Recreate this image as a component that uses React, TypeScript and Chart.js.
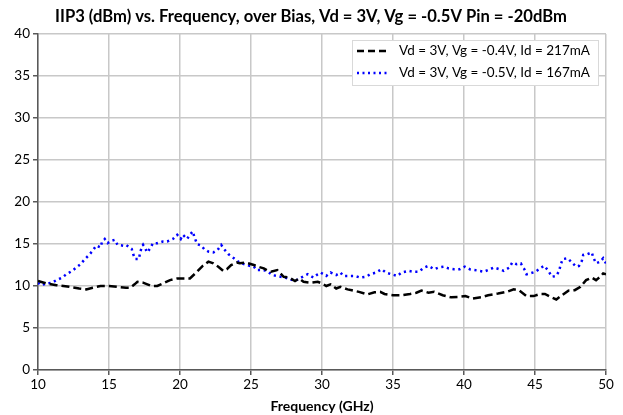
import React, { useEffect, useRef } from "react";
import { Chart, registerables } from "chart.js";

Chart.register(...registerables);

const chartTitle = "IIP3 (dBm) vs. Frequency, over Bias, Vd = 3V, Vg = -0.5V Pin = -20dBm";
const xAxisTitle = "Frequency (GHz)";
const seriesLabels = ["Vd = 3V, Vg = -0.4V, Id = 217mA", "Vd = 3V, Vg = -0.5V, Id = 167mA"];
const yTicks = [0, 5, 10, 15, 20, 25, 30, 35, 40];
const xTicks = [10, 15, 20, 25, 30, 35, 40, 45, 50];

const blackFreq = [10.0, 10.6, 11.3, 12.2, 12.9, 13.4, 13.85, 14.4, 15.0, 15.6, 16.2, 16.5, 16.8, 17.0, 17.4, 17.7, 18.0, 18.4, 18.8, 19.3, 19.8, 20.2, 20.7, 21.2, 21.6, 22.0, 22.35, 22.7, 23.05, 23.3, 23.6, 24.0, 24.2, 24.6, 24.8, 25.2, 25.5, 25.9, 26.2, 26.4, 26.85, 27.3, 27.7, 28.1, 28.4, 28.7, 29.2, 29.7, 30.0, 30.3, 30.6, 31.0, 31.3, 31.8, 32.1, 32.6, 33.2, 33.7, 34.1, 34.4, 35.0, 35.6, 36.2, 36.65, 37.0, 37.5, 37.9, 38.5, 39.1, 39.6, 40.1, 40.6, 41.2, 41.7, 42.4, 43.0, 43.5, 43.9, 44.4, 44.9, 45.35, 45.7, 46.1, 46.5, 46.9, 47.35, 47.8, 48.2, 48.6, 49.0, 49.3, 49.6, 49.8, 50.0];
const blackVals = [10.6, 10.3, 10.1, 9.9, 9.7, 9.6, 9.8, 10.0, 10.0, 9.9, 9.8, 9.8, 10.2, 10.5, 10.4, 10.2, 10.0, 10.0, 10.3, 10.7, 10.9, 10.9, 10.9, 11.7, 12.4, 12.9, 12.7, 12.3, 11.8, 12.0, 12.5, 12.8, 12.7, 12.8, 12.7, 12.5, 12.3, 12.1, 11.8, 11.7, 11.9, 11.1, 11.0, 10.6, 10.9, 10.5, 10.4, 10.5, 10.3, 10.0, 10.2, 9.7, 9.9, 9.6, 9.5, 9.3, 9.0, 9.25, 9.3, 9.05, 8.9, 8.9, 9.05, 9.2, 9.45, 9.2, 9.3, 8.9, 8.65, 8.7, 8.8, 8.5, 8.65, 8.9, 9.1, 9.3, 9.6, 9.45, 8.8, 8.8, 9.05, 9.05, 8.7, 8.4, 8.9, 9.45, 9.5, 9.9, 10.7, 11.0, 10.7, 11.1, 11.5, 11.4];

const blueFreq = [10.0, 10.2, 10.6, 11.0, 11.3, 11.7, 12.0, 12.4, 12.7, 13.0, 13.3, 13.6, 13.85, 14.1, 14.4, 14.5, 14.7, 14.9, 15.2, 15.4, 15.6, 16.0, 16.2, 16.6, 16.7, 16.85, 17.1, 17.2, 17.3, 17.4, 17.7, 17.9, 18.1, 18.4, 18.8, 19.1, 19.5, 19.8, 20.05, 20.2, 20.5, 20.7, 20.9, 21.0, 21.2, 21.5, 21.7, 22.0, 22.35, 22.65, 22.9, 23.1, 23.4, 23.8, 24.1, 24.5, 24.9, 25.2, 25.4, 25.9, 26.2, 26.5, 27.4, 28.1, 28.4, 29.0, 29.4, 29.7, 29.9, 30.3, 30.6, 31.0, 31.3, 31.5, 32.3, 32.7, 33.1, 33.4, 33.8, 34.2, 34.5, 34.9, 35.3, 35.6, 36.1, 36.4, 36.8, 37.2, 37.5, 37.9, 38.2, 38.6, 38.9, 39.3, 39.7, 40.05, 40.4, 40.75, 41.1, 41.4, 41.7, 42.1, 42.5, 42.8, 43.2, 43.4, 43.7, 44.0, 44.25, 44.4, 44.65, 45.05, 45.35, 45.65, 45.9, 46.2, 46.5, 46.7, 46.8, 46.95, 47.3, 47.6, 47.9, 48.1, 48.3, 48.4, 48.7, 49.0, 49.1, 49.3, 49.6, 49.8, 50.0];
const blueVals = [10.4, 10.1, 10.3, 10.4, 10.7, 11.0, 11.4, 11.8, 12.2, 12.6, 13.2, 13.7, 14.2, 14.8, 14.6, 15.2, 15.6, 15.1, 15.4, 15.5, 14.9, 14.8, 14.9, 14.4, 13.8, 13.2, 13.2, 14.0, 14.6, 14.9, 14.0, 14.5, 15.1, 15.1, 15.3, 15.3, 15.6, 16.1, 15.6, 16.1, 15.6, 16.1, 16.5, 15.9, 15.0, 14.8, 14.4, 14.1, 14.0, 14.3, 14.9, 14.4, 13.8, 13.3, 12.9, 12.6, 12.4, 12.3, 11.9, 11.9, 11.7, 11.3, 11.0, 10.6, 10.9, 11.4, 11.0, 11.4, 11.6, 11.2, 11.6, 11.3, 11.6, 11.2, 11.2, 11.0, 11.1, 11.4, 11.6, 12.0, 11.6, 11.4, 11.2, 11.6, 11.8, 11.7, 11.7, 12.2, 12.4, 12.0, 12.2, 12.3, 12.1, 12.0, 12.0, 12.3, 12.0, 11.9, 11.8, 11.7, 11.9, 12.2, 12.0, 11.8, 12.2, 12.8, 12.6, 12.7, 12.0, 11.4, 11.5, 11.7, 12.1, 12.4, 11.9, 11.1, 11.2, 11.8, 12.5, 13.2, 13.3, 12.8, 12.3, 12.4, 13.0, 13.7, 13.8, 14.0, 13.4, 12.7, 12.9, 13.3, 12.7];

const FONT = "Lato, 'Liberation Sans', sans-serif";

const overlayPlugin = {
  id: "overlay",
  afterDraw(chart: any) {
    const ctx = chart.ctx;
    const area = chart.chartArea;
    ctx.save();
    // title
    ctx.fillStyle = "#000";
    ctx.font = `bold 16.6px ${FONT}`;
    ctx.textAlign = "center";
    ctx.textBaseline = "middle";
    ctx.fillText(chartTitle, 311, 17);
    // x axis title
    ctx.font = `bold 14px ${FONT}`;
    ctx.fillText(xAxisTitle, (area.left + area.right) / 2, 406);
    // legend box
    const bx = 352, by = 40, bw = 246, bh = 45;
    ctx.fillStyle = "#fff";
    ctx.fillRect(bx, by, bw, bh);
    ctx.strokeStyle = "#d9d9d9";
    ctx.lineWidth = 1;
    ctx.strokeRect(bx + 0.5, by + 0.5, bw, bh);
    const rows = [
      { y: 51, color: "#000", dash: [7, 4], width: 2.5 },
      { y: 73, color: "#0000ff", dash: [2, 3.5], width: 2.5 },
    ];
    rows.forEach((r, i) => {
      ctx.strokeStyle = r.color;
      ctx.lineWidth = r.width;
      ctx.setLineDash(r.dash);
      ctx.beginPath();
      ctx.moveTo(357, r.y);
      ctx.lineTo(390, r.y);
      ctx.stroke();
      ctx.setLineDash([]);
      ctx.fillStyle = "#000";
      ctx.font = `13.5px ${FONT}`;
      ctx.textAlign = "left";
      ctx.fillText(seriesLabels[i], 399, r.y);
    });
    ctx.restore();
  },
};

export default function App() {
  const ref = useRef<HTMLCanvasElement>(null);
  useEffect(() => {
    if (!ref.current) return;
    const chart = new Chart(ref.current, {
      type: "line",
      data: {
        datasets: [
          {
            label: seriesLabels[0],
            data: blackFreq.map((f, i) => ({ x: f, y: blackVals[i] })),
            borderColor: "#000",
            borderWidth: 2.5,
            borderDash: [8, 4],
            pointRadius: 0,
            fill: false,
            tension: 0,
          },
          {
            label: seriesLabels[1],
            data: blueFreq.map((f, i) => ({ x: f, y: blueVals[i] })),
            borderColor: "#0000ff",
            borderWidth: 2.5,
            borderDash: [2.2, 3.6],
            pointRadius: 0,
            fill: false,
            tension: 0,
          },
        ],
      },
      options: {
        animation: false,
        responsive: false,
        maintainAspectRatio: false,
        layout: { padding: { top: 34, right: 17, left: 0, bottom: 0 } },
        plugins: { legend: { display: false }, title: { display: false }, tooltip: { enabled: false } },
        scales: {
          x: {
            type: "linear",
            min: 10,
            max: 50,
            afterBuildTicks: (s: any) => { s.ticks = xTicks.map((v) => ({ value: v })); },
            afterFit: (s: any) => { s.height = 45; },
            grid: { color: "#c8c8c8", lineWidth: 1.5, tickColor: "#595959", tickLength: 5 },
            border: { color: "#595959", width: 1.5 },
            ticks: { color: "#000", font: { family: FONT, size: 13.5 }, padding: 2, maxRotation: 0 },
          },
          y: {
            min: 0,
            max: 40,
            afterBuildTicks: (s: any) => { s.ticks = yTicks.map((v) => ({ value: v })); },
            afterFit: (s: any) => { s.width = 38; },
            grid: { color: "#c8c8c8", lineWidth: 1.5, tickColor: "#595959", tickLength: 5 },
            border: { color: "#595959", width: 1.5 },
            ticks: { color: "#000", font: { family: FONT, size: 13.5 }, padding: 3 },
          },
        },
      },
      plugins: [overlayPlugin],
    } as any);
    return () => chart.destroy();
  }, []);
  return (
    <div style={{ position: "fixed", left: 0, top: 0, width: 623, height: 415, background: "#fff" }}>
      <canvas ref={ref} width={623} height={415} style={{ width: 623, height: 415 }} />
    </div>
  );
}
